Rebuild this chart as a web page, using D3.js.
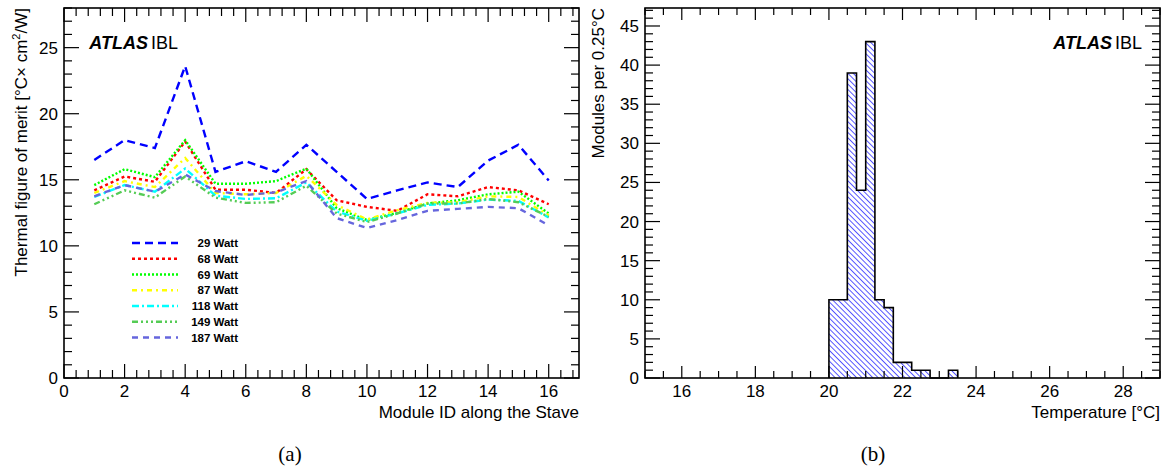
<!DOCTYPE html>
<html><head><meta charset="utf-8">
<script src="https://cdn.jsdelivr.net/npm/d3@7"></script>
<style>
body{margin:0;background:#fff;}
</style></head>
<body><svg id="c" width="1168" height="468" font-family="'Liberation Sans',Arial,Helvetica,sans-serif"></svg>
<script>
// ---- Data ----
const modules = [1,2,3,4,5,6,7,8,9,10,11,12,13,14,15,16];
const powerLabels = ["29 Watt","68 Watt","69 Watt","87 Watt","118 Watt","149 Watt","187 Watt"];
const fom29  = [16.5,18.0,17.4,23.6,15.6,16.4,15.6,17.65,15.6,13.55,14.2,14.8,14.45,16.45,17.65,14.95];
const fom68  = [14.2,15.25,14.85,17.9,14.25,14.25,14.0,15.8,13.45,12.95,12.65,13.9,13.75,14.45,14.2,13.15];
const fom69  = [14.6,15.8,15.2,18.0,14.7,14.7,14.9,15.85,12.85,11.95,12.5,13.2,13.45,13.9,14.1,12.45];
const fom87  = [14.0,14.9,14.45,16.65,14.0,13.9,14.0,15.3,13.1,12.0,12.7,13.25,13.3,13.75,13.7,12.3];
const fom118 = [13.7,14.6,14.1,15.85,13.8,13.55,13.6,14.8,12.6,11.9,12.45,13.1,13.2,13.5,13.4,12.15];
const fom149 = [13.15,14.2,13.65,15.25,13.65,13.25,13.3,14.55,12.45,11.8,12.45,13.2,13.2,13.55,13.3,12.2];
const fom187 = [13.75,14.6,14.1,15.4,14.15,13.85,14.05,14.9,12.1,11.35,11.95,12.65,12.8,12.95,12.85,11.55];
const binStart = [20,20.25,20.5,20.75,21,21.25,21.5,21.75,22,22.25,22.5,22.75,23,23.25];
const binCount = [10,10,39,24,43,10,9,2,2,1,1,0,0,1];
const binWidth = 0.25;
const leftXTicks = [0,2,4,6,8,10,12,14,16];
const leftYTicks = [0,5,10,15,20,25];
const rightXTicks = [16,18,20,22,24,26,28];
const rightYTicks = [0,5,10,15,20,25,30,35,40,45];

const seriesColors = ["#0000ff","#ff0000","#00ff00","#ffff00","#00ffff","#55cc55","#6666dd"];
const seriesDash = ["8,5","3,3","2,2","5,4,2,4","7,3,2,3","6,3,2,3,2,3,2,3","6,5"];
const allSeries = [fom29,fom68,fom69,fom87,fom118,fom149,fom187];

const svg = d3.select("#c");
const defs = svg.append("defs");
const pat = defs.append("pattern").attr("id","hatch").attr("patternUnits","userSpaceOnUse")
  .attr("width",3.8).attr("height",3.8).attr("patternTransform","rotate(-45)");
pat.append("line").attr("x1",0).attr("y1",0).attr("x2",0).attr("y2",3.8)
  .attr("stroke","#0000ff").attr("stroke-width",1.3);

function frame(g, x, y, xMajor, xMinorStep, yMajor, yMinorStep, xmaj, ymaj){
  const [x0,x1] = x.range(), [y0,y1] = y.range();
  g.append("rect").attr("x",x0).attr("y",y1).attr("width",x1-x0).attr("height",y0-y1)
    .attr("fill","none").attr("stroke","#000").attr("stroke-width",1.6);
  const dx = x.domain(), dy = y.domain();
  const tk = g.append("g").attr("stroke","#000").attr("stroke-width",1.2);
  for(let v=Math.ceil(dx[0]/xMinorStep-1e-9)*xMinorStep; v<=dx[1]+1e-9; v+=xMinorStep){
    const isMaj = xMajor.some(m=>Math.abs(m-v)<1e-6);
    const L = isMaj?xmaj[0]:xmaj[1];
    const px = x(v);
    tk.append("line").attr("x1",px).attr("x2",px).attr("y1",y0).attr("y2",y0-L);
    tk.append("line").attr("x1",px).attr("x2",px).attr("y1",y1).attr("y2",y1+L);
  }
  for(let v=Math.ceil(dy[0]/yMinorStep-1e-9)*yMinorStep; v<=dy[1]+1e-9; v+=yMinorStep){
    const isMaj = yMajor.some(m=>Math.abs(m-v)<1e-6);
    const L = isMaj?ymaj[0]:ymaj[1];
    const py = y(v);
    tk.append("line").attr("x1",x0).attr("x2",x0+L).attr("y1",py).attr("y2",py);
    tk.append("line").attr("x1",x1).attr("x2",x1-L).attr("y1",py).attr("y2",py);
  }
  g.append("g").selectAll("text").data(xMajor).join("text")
    .attr("x",d=>x(d)).attr("y",y0+19).attr("text-anchor","middle")
    .attr("font-size",17).text(d=>d);
  g.append("g").selectAll("text").data(yMajor).join("text")
    .attr("x",x0-6).attr("y",d=>y(d)+6).attr("text-anchor","end")
    .attr("font-size",17).text(d=>d);
}

function atlas(g, xEnd, y){
  const t = g.append("text").attr("x",xEnd).attr("y",y).attr("text-anchor","end").attr("font-size",18);
  t.append("tspan").attr("font-weight","bold").attr("font-style","italic").text("ATLAS");
  t.append("tspan").attr("dx",3).text("IBL");
}

// ---- Left panel ----
const xL = d3.scaleLinear().domain([0,17]).range([64,579]);
const yL = d3.scaleLinear().domain([0,28]).range([378,8]);
const gL = svg.append("g");
const line = d3.line().x((d,i)=>xL(modules[i])).y(d=>yL(d));
allSeries.forEach((s,k)=>{
  gL.append("path").attr("d",line(s)).attr("fill","none")
    .attr("stroke",seriesColors[k]).attr("stroke-width",2.4)
    .attr("stroke-dasharray",seriesDash[k]);
});
frame(gL,xL,yL,leftXTicks,0.4,leftYTicks,1,[14,8],[15,8]);
atlas(gL,178,49);
const legY = d3.scaleLinear().domain([0,6]).range([243,337.5]);
powerLabels.forEach((lab,k)=>{
  gL.append("line").attr("x1",132).attr("x2",178).attr("y1",legY(k)).attr("y2",legY(k))
    .attr("stroke",seriesColors[k]).attr("stroke-width",2.4).attr("stroke-dasharray",seriesDash[k]);
  gL.append("text").attr("x",238).attr("y",legY(k)+4).attr("text-anchor","end")
    .attr("font-size",11.5).attr("font-weight","bold").text(lab);
});
gL.append("text").attr("x",579).attr("y",418).attr("text-anchor","end").attr("font-size",17)
  .text("Module ID along the Stave");
const ylab = gL.append("text").attr("transform","translate(27,8) rotate(-90)").attr("text-anchor","end").attr("font-size",17);
ylab.append("tspan").text("Thermal figure of merit [°C× cm");
ylab.append("tspan").attr("font-size",11).attr("dy",-7).text("2");
ylab.append("tspan").attr("dy",7).text("/W]");

// ---- Right panel ----
const xR = d3.scaleLinear().domain([15,29]).range([645,1160]);
const yR = d3.scaleLinear().domain([0,47.3]).range([378,8]);
const gR = svg.append("g");
const hpts = [];
hpts.push([binStart[0], 0]);
binStart.forEach((b,i)=>{ hpts.push([b,binCount[i]]); hpts.push([b+binWidth,binCount[i]]); });
hpts.push([binStart[binStart.length-1]+binWidth,0]);
const hline = d3.line().x(d=>xR(d[0])).y(d=>yR(d[1]));
gR.append("path").attr("d",hline(hpts)+"Z").attr("fill","url(#hatch)").attr("stroke","none");
gR.append("path").attr("d",hline(hpts)).attr("fill","none").attr("stroke","#000").attr("stroke-width",1.6);
frame(gR,xR,yR,rightXTicks,0.5,rightYTicks,1,[12,7],[15,8]);
atlas(gR,1142,49);
gR.append("text").attr("x",1160).attr("y",418).attr("text-anchor","end").attr("font-size",17)
  .text("Temperature [°C]");
gR.append("text").attr("transform","translate(604,8) rotate(-90)").attr("text-anchor","end").attr("font-size",17)
  .text("Modules per 0.25°C");

// captions
svg.append("text").attr("x",290).attr("y",461).attr("text-anchor","middle")
  .style("font-family","'Liberation Serif','Times New Roman',serif").attr("font-size",21).text("(a)");
svg.append("text").attr("x",873).attr("y",461).attr("text-anchor","middle")
  .style("font-family","'Liberation Serif','Times New Roman',serif").attr("font-size",21).text("(b)");
</script></body></html>
